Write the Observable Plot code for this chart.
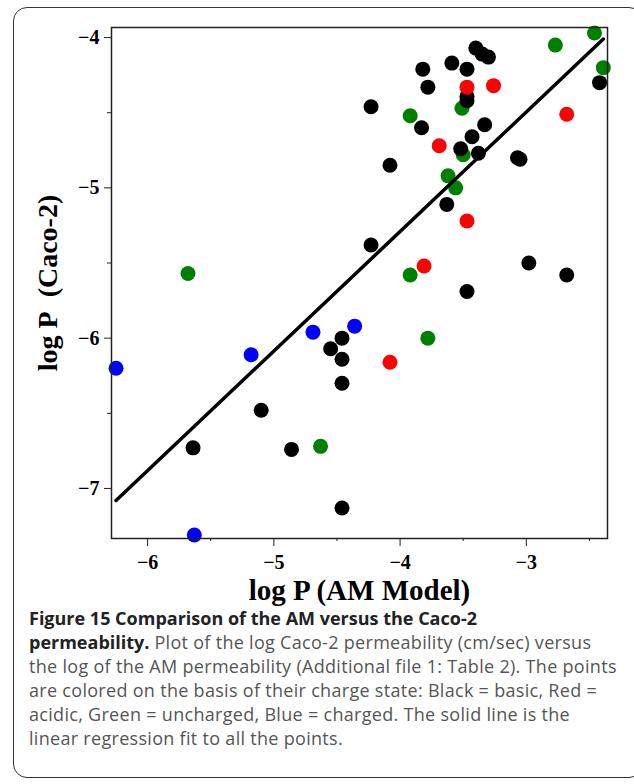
<!DOCTYPE html>
<html>
<head>
<meta charset="utf-8">
<script src="https://cdn.jsdelivr.net/npm/d3@7"></script>
<script src="https://cdn.jsdelivr.net/npm/@observablehq/plot@0.6"></script>
<style>
  html, body { margin: 0; padding: 0; background: #fff; }
  #page { position: relative; width: 634px; height: 784px; overflow: hidden; }
  #box { position: absolute; left: 13px; top: 7px; width: 630px; height: 771px;
         border: 1.5px solid #333; border-radius: 14px; box-sizing: border-box; }
  #chart { position: absolute; left: 0; top: 0; }
  #caption { position: absolute; left: 29px; top: 606px; width: 600px;
             font-family: "Open Sans", sans-serif; font-size: 18px; line-height: 24px;
             letter-spacing: 0.3px; color: #555; white-space: nowrap; }
  #caption b { color: #222; font-weight: 700; letter-spacing: 0; }
</style>
</head>
<body>
<div id="page">
  <div id="box"></div>
  <div id="chart"></div>
  <div id="caption">
    <b>Figure 15 Comparison of the AM versus the Caco-2</b><br>
    <b>permeability.</b> Plot of the log Caco-2 permeability (cm/sec) versus<br>
    the log of the AM permeability (Additional file 1: Table 2). The points<br>
    are colored on the basis of their charge state: Black = basic, Red =<br>
    acidic, Green = uncharged, Blue = charged. The solid line is the<br>
    linear regression fit to all the points.
  </div>
</div>
<script>
// Black = basic
const blackX = [-2.42, -3.40, -3.35, -3.30, -3.59, -3.82, -3.47, -3.78, -3.47, -3.47, -4.23, -3.83, -3.33, -3.43, -3.52, -3.38, -3.07, -3.05, -4.08, -3.63, -4.23, -2.98, -2.68, -3.47, -4.46, -4.55, -4.46, -4.46, -5.10, -5.64, -4.86, -4.46];
const blackY = [-4.30, -4.07, -4.11, -4.13, -4.17, -4.21, -4.21, -4.33, -4.39, -4.42, -4.46, -4.60, -4.58, -4.66, -4.74, -4.77, -4.80, -4.81, -4.85, -5.11, -5.38, -5.50, -5.58, -5.69, -6.00, -6.07, -6.14, -6.30, -6.48, -6.73, -6.74, -7.13];
// Red = acidic
const redX = [-3.47, -3.26, -2.68, -3.69, -3.47, -3.81, -4.08];
const redY = [-4.33, -4.32, -4.51, -4.72, -5.22, -5.52, -6.16];
// Green = uncharged
const greenX = [-2.46, -2.77, -2.39, -3.51, -3.92, -3.50, -3.62, -3.56, -3.92, -5.68, -3.78, -4.63];
const greenY = [-3.97, -4.05, -4.20, -4.47, -4.52, -4.78, -4.92, -5.00, -5.58, -5.57, -6.00, -6.72];
// Blue = charged
const blueX = [-6.25, -5.18, -4.69, -4.36, -5.63];
const blueY = [-6.20, -6.11, -5.96, -5.92, -7.31];

// linear regression fit line (endpoints)
const fitX = [-6.25, -2.39];
const fitY = [-7.08, -4.01];

const charges = ["basic", "acidic", "uncharged", "charged"];
const chargeColors = ["#000000", "#ff0000", "#008000", "#0000ff"];

const xMajor = [-6, -5, -4, -3];
const xMinor = [-5.5, -4.5, -3.5, -2.5];
const yMajor = [-4, -5, -6, -7];
const yMinor = [-4.5, -5.5, -6.5];

const xLabel = "log P (AM Model)";
const yLabel = "log P\u00a0\u00a0(Caco-2)";

const toRows = (xs, ys, c) => xs.map((x, i) => ({x, y: ys[i], charge: c}));
const points = [
  ...toRows(greenX, greenY, "uncharged"),
  ...toRows(blackX, blackY, "basic"),
  ...toRows(redX, redY, "acidic"),
  ...toRows(blueX, blueY, "charged")
];
const fit = fitX.map((x, i) => ({x, y: fitY[i]}));

const serif = "Liberation Serif, Times New Roman, serif";
const fmt = d => (d < 0 ? "\u2212" : "") + Math.abs(d);

const chart = Plot.plot({
  width: 634,
  height: 610,
  marginLeft: 111,
  marginRight: 27,
  marginTop: 27,
  marginBottom: 72,
  style: {fontFamily: serif, background: "transparent", color: "#000"},
  x: {domain: [-6.286, -2.357]},
  y: {domain: [-7.333, -3.933]},
  color: {domain: charges, range: chargeColors},
  marks: [
    Plot.axisX({ticks: xMajor, tickSize: 8, tickPadding: 8, tickFormat: fmt, label: null,
                fontSize: 20, fontWeight: "bold", fontFamily: serif, stroke: "#222"}),
    Plot.axisX({ticks: xMinor, tickSize: 3, tickFormat: () => "", label: null, stroke: "#222"}),
    Plot.axisY({ticks: yMajor, tickSize: 7, tickPadding: 5, tickFormat: fmt, label: null,
                fontSize: 20, fontWeight: "bold", fontFamily: serif, stroke: "#222"}),
    Plot.axisY({ticks: yMinor, tickSize: 4, tickFormat: () => "", label: null, stroke: "#222"}),
    Plot.dot(points, {x: "x", y: "y", fill: "charge", r: 7.5}),
    Plot.line(fit, {x: "x", y: "y", stroke: "#000", strokeWidth: 3.5}),
    Plot.frame({stroke: "#222", strokeWidth: 1.5}),
    Plot.text([xLabel], {frameAnchor: "bottom", lineAnchor: "middle", textAnchor: "middle", dy: 52,
                         fontSize: 29, fontWeight: "bold", fontFamily: serif, fill: "#000"}),
    Plot.text([yLabel], {frameAnchor: "left", lineAnchor: "middle", textAnchor: "middle", rotate: -90, dx: -63,
                         fontSize: 28, fontWeight: "bold", fontFamily: serif, fill: "#000"})
  ]
});
document.getElementById("chart").appendChild(chart);
</script>
</body>
</html>
